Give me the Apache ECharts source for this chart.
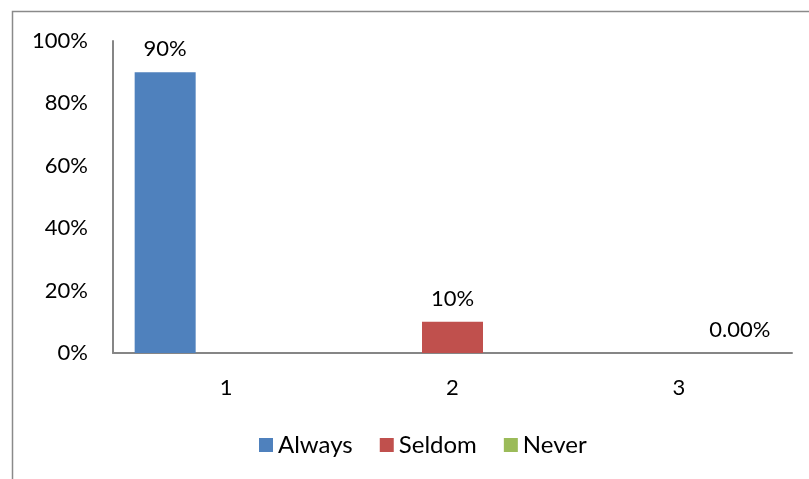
<!DOCTYPE html>
<html>
<head>
<meta charset="utf-8">
<script src="https://cdn.jsdelivr.net/npm/echarts@6/dist/echarts.min.js"></script>
<style>
  html, body { margin: 0; padding: 0; background: #fff; }
  #chart { width: 809px; height: 479px; }
</style>
</head>
<body>
<div id="chart"></div>
<script>
// categories on the x axis
const categories = ['1', '2', '3'];
// one series per answer, each only has a value in its own category
const seriesNames = ['Always', 'Seldom', 'Never'];
const alwaysValues = [0.9, null, null];
const seldomValues = [null, 0.1, null];
const neverValues = [null, null, 0];
const colors = ['#4F81BD', '#C0504D', '#9BBB59'];

const font = 'Lato, "Open Sans", sans-serif';

const chart = echarts.init(document.getElementById('chart'), null, { renderer: 'canvas' });

function pct(p) {
  return Math.round(p.value * 100) + '%';
}

const labelStyle = {
  show: true,
  position: 'top',
  distance: 12,
  color: '#000',
  fontFamily: font,
  fontSize: 22
};

chart.setOption({
  animation: false,
  color: colors,
  // frame round the chart (only top and left are visible)
  graphic: [{
    type: 'rect',
    shape: { x: 12.5, y: 11.5, width: 900, height: 600 },
    style: { fill: null, stroke: '#8a8a8a', lineWidth: 1.5 },
    silent: true
  }],
  grid: { left: 113, right: 17, top: 41, bottom: 126 },
  legend: {
    bottom: 17,
    left: 254,
    itemWidth: 14,
    itemHeight: 14,
    itemGap: 27,
    icon: 'rect',
    textStyle: { fontFamily: font, fontSize: 24, color: '#000' },
    data: seriesNames
  },
  xAxis: {
    type: 'category',
    data: categories,
    axisLine: { lineStyle: { color: '#868686', width: 2 } },
    axisTick: { show: false },
    axisLabel: { color: '#000', fontFamily: font, fontSize: 22, margin: 24 }
  },
  yAxis: {
    type: 'value',
    min: 0,
    max: 1,
    interval: 0.2,
    splitLine: { show: false },
    axisLine: { show: true, lineStyle: { color: '#868686', width: 2 } },
    axisTick: { show: false },
    axisLabel: {
      color: '#000', fontFamily: font, fontSize: 22, margin: 25,
      formatter: v => Math.round(v * 100) + '%'
    }
  },
  series: [
    {
      name: seriesNames[0], type: 'bar', data: alwaysValues,
      barGap: 0, barWidth: 61,
      label: Object.assign({}, labelStyle, { formatter: pct })
    },
    {
      name: seriesNames[1], type: 'bar', data: seldomValues,
      barGap: 0, barWidth: 61,
      label: Object.assign({}, labelStyle, { formatter: pct })
    },
    {
      name: seriesNames[2], type: 'bar', data: neverValues,
      barGap: 0, barWidth: 61,
      label: Object.assign({}, labelStyle, { formatter: p => (p.value * 100).toFixed(2) + '%' })
    }
  ]
});
</script>
</body>
</html>
